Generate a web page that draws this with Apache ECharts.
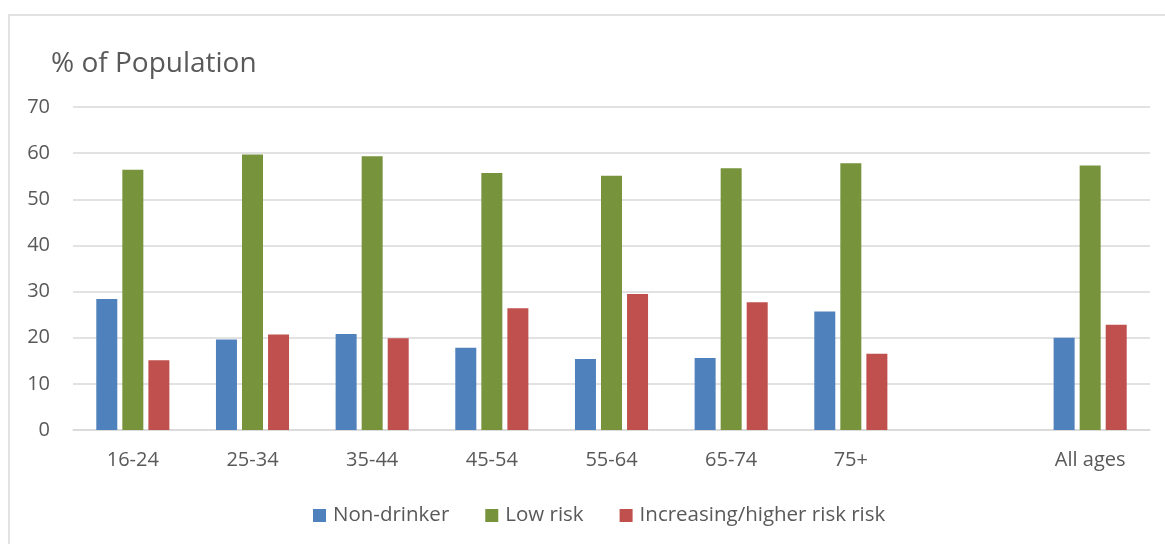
<!DOCTYPE html>
<html>
<head>
<meta charset="utf-8">
<title>Drinking status by age</title>
<script src="https://cdn.jsdelivr.net/npm/echarts@6/dist/echarts.min.js"></script>
<style>
  html, body { margin: 0; padding: 0; background: #ffffff; }
  #chart { width: 1165px; height: 544px; }
</style>
</head>
<body>
<div id="chart"></div>
<script>
// Age bands (the blank slot separates the age groups from the overall figure)
const categories = ['16-24', '25-34', '35-44', '45-54', '55-64', '65-74', '75+', '', 'All ages'];
const seriesNames = ['Non-drinker', 'Low risk', 'Increasing/higher risk risk'];

// Percent of population in each drinking category
const nonDrinker = [28.4, 19.6, 20.8, 17.8, 15.4, 15.6, 25.7, null, 20.0];
const lowRisk = [56.4, 59.7, 59.3, 55.7, 55.1, 56.7, 57.8, null, 57.3];
const higherRisk = [15.1, 20.7, 19.9, 26.4, 29.5, 27.7, 16.5, null, 22.8];

const yTicks = { min: 0, max: 70, interval: 10 };

const colors = ['#4F81BD', '#77933C', '#C0504D'];
const textColor = '#595959';
const gridColor = '#d9d9d9';
const fontFamily = '"Open Sans", "DejaVu Sans", sans-serif';

const chart = echarts.init(document.getElementById('chart'), null, { renderer: 'canvas' });

const makeBar = (name, data, color) => ({
  name: name,
  type: 'bar',
  data: data,
  barWidth: 21,
  barGap: '24%',
  itemStyle: { color: color },
  emphasis: { disabled: true }
});

chart.setOption({
  animation: false,
  backgroundColor: '#ffffff',
  color: colors,
  graphic: [{
    type: 'rect',
    shape: { x: 9, y: 15, width: 1200, height: 560 },
    style: { fill: 'none', stroke: gridColor, lineWidth: 1.5 },
    z: 0
  }],
  title: {
    text: '% of Population',
    left: 46,
    top: 45,
    textStyle: { fontFamily: fontFamily, fontSize: 28, fontWeight: 'normal', color: textColor }
  },
  legend: {
    data: seriesNames,
    bottom: 13,
    left: 308,
    itemWidth: 13,
    itemHeight: 13,
    itemGap: 36,
    icon: 'rect',
    selectedMode: false,
    textStyle: { fontFamily: fontFamily, fontSize: 20.5, color: textColor, padding: [0, 0, 0, 2] }
  },
  grid: { left: 73, right: 15, top: 107, bottom: 114, containLabel: false },
  xAxis: {
    type: 'category',
    data: categories,
    axisLine: { show: true, lineStyle: { color: gridColor, width: 1.5 } },
    axisTick: { show: false },
    axisLabel: { fontFamily: fontFamily, fontSize: 20, color: textColor, margin: 20, interval: 0 }
  },
  yAxis: {
    type: 'value',
    min: yTicks.min,
    max: yTicks.max,
    interval: yTicks.interval,
    axisLine: { show: false },
    axisTick: { show: false },
    splitLine: { lineStyle: { color: gridColor, width: 1.5 } },
    axisLabel: { fontFamily: fontFamily, fontSize: 20, color: textColor, margin: 23 }
  },
  series: [
    makeBar(seriesNames[0], nonDrinker, colors[0]),
    makeBar(seriesNames[1], lowRisk, colors[1]),
    makeBar(seriesNames[2], higherRisk, colors[2])
  ]
});
</script>
</body>
</html>
